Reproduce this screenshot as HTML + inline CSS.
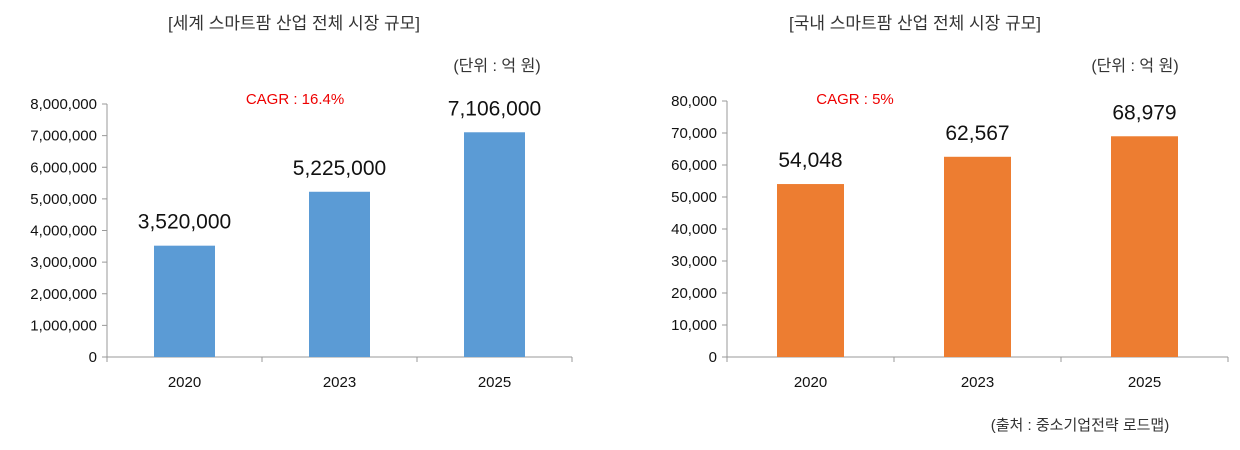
<!DOCTYPE html>
<html><head><meta charset="utf-8"><style>
body{margin:0;background:#fff;width:1240px;height:445px;overflow:hidden;font-family:"Liberation Sans","Noto Sans CJK KR",sans-serif}
svg text{font-family:"Liberation Sans","Noto Sans CJK KR",sans-serif}
</style></head><body>
<svg id="c" width="1240" height="445">
<text x="294" y="29" font-size="17" fill="#333" text-anchor="middle">[세계 스마트팜 산업 전체 시장 규모]</text>
<text x="497" y="71" font-size="16" fill="#333" text-anchor="middle">(단위 : 억 원)</text>
<text x="295" y="104" font-size="15" fill="#e00" text-anchor="middle">CAGR :  16.4%</text>
<text x="915" y="29" font-size="17" fill="#333" text-anchor="middle">[국내 스마트팜 산업 전체 시장 규모]</text>
<text x="1135" y="71" font-size="16" fill="#333" text-anchor="middle">(단위 : 억 원)</text>
<text x="855" y="104" font-size="15" fill="#e00" text-anchor="middle">CAGR :  5%</text>
<text x="1080" y="430" font-size="15" fill="#333" text-anchor="middle">(출처 : 중소기업전략 로드맵)</text>
</svg>
<script>
const categories=["2020","2023","2025"];
const worldValues=[3520000,5225000,7106000];
const worldTicks=[0,1000000,2000000,3000000,4000000,5000000,6000000,7000000,8000000];
const koreaValues=[54048,62567,68979];
const koreaTicks=[0,10000,20000,30000,40000,50000,60000,70000,80000];
const svg=document.getElementById('c');
const NS='http://www.w3.org/2000/svg';
function mk(t,a){const e=document.createElementNS(NS,t);for(const k in a)e.setAttribute(k,a[k]);svg.appendChild(e);return e;}
function draw(cfg,vals,ticks,pref){
  const max=ticks[ticks.length-1];
  const y=v=>cfg.y0-(v/max)*(cfg.y0-cfg.yTop);
  const step=(cfg.x1-cfg.x0)/categories.length;
  const ax=mk('line',{x1:cfg.x0,y1:cfg.yTop,x2:cfg.x0,y2:cfg.y0,stroke:'#999'});
  
  
  const bx=mk('line',{x1:cfg.x0,y1:cfg.y0,x2:cfg.x1,y2:cfg.y0,stroke:'#999'});
  
  
  ticks.forEach(t=>{
    const l=mk('line',{x1:cfg.x0-5,y1:y(t),x2:cfg.x0,y2:y(t),stroke:'#999'});
    
    
    const tx=mk('text',{x:cfg.x0-10,y:y(t)+5,'font-size':15,'text-anchor':'end',fill:'#111'});
    tx.textContent=t.toLocaleString('en-US');
    
    
  });
  for(let i=0;i<=categories.length;i++){
    const l=mk('line',{x1:cfg.x0+i*step,y1:cfg.y0,x2:cfg.x0+i*step,y2:cfg.y0+5,stroke:'#999'});
    
    
  }
  categories.forEach((c,i)=>{
    const cx=cfg.x0+step*(i+0.5);
    const r=mk('rect',{x:cx-cfg.bw/2,y:y(vals[i]),width:cfg.bw,height:cfg.y0-y(vals[i]),fill:cfg.color});
    
    
    const v=mk('text',{x:cx,y:y(vals[i])-17,'font-size':21,'text-anchor':'middle',fill:'#111'});
    v.textContent=vals[i].toLocaleString('en-US');
    
    
    const xl=mk('text',{x:cx,y:cfg.y0+30,'font-size':15,'text-anchor':'middle',fill:'#111'});
    xl.textContent=c;
    
    
  });
}
draw({x0:107,x1:572,y0:357,yTop:104,bw:61,color:'#5b9bd5'},worldValues,worldTicks,'world');
draw({x0:727,x1:1228,y0:357,yTop:101,bw:67,color:'#ed7d31'},koreaValues,koreaTicks,'korea');
</script>
</body></html>
